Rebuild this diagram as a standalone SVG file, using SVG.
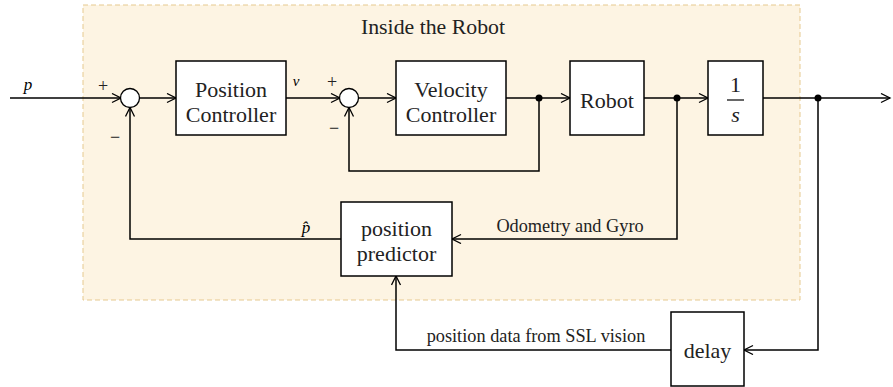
<svg xmlns="http://www.w3.org/2000/svg" width="893" height="387" viewBox="0 0 893 387">
<defs>
<marker id="arr" markerUnits="userSpaceOnUse" markerWidth="12" markerHeight="12" refX="10" refY="5" orient="auto">
<path d="M1,0.5 L10,5 L1,9.5" fill="none" stroke="#000" stroke-width="1.3"/>
</marker>
<style>
text{font-family:'Liberation Serif','Times New Roman','DejaVu Serif',serif}
.blk{fill:#fff;stroke:#000;stroke-width:1.5}
.ln{fill:none;stroke:#000;stroke-width:1.5}
.bt{font-size:22px;text-anchor:middle;fill:#222}
.lb{font-size:18.3px;text-anchor:middle;fill:#222}
.it{font-style:italic;font-size:17px;text-anchor:middle;fill:#000}
.sg{font-size:18px;text-anchor:middle;fill:#222}
.dot{fill:#000}
</style>
</defs>
<rect id="region" x="83" y="5" width="717" height="295" fill="#fdf4e3" stroke="#e6c98f" stroke-width="1" stroke-dasharray="5,3"/>
<text class="lb" x="433" y="34" style="font-size:21.8px">Inside the Robot</text>

<g id="connectors">
<path class="ln" d="M10,98 H121" marker-end="url(#arr)"/>
<path class="ln" d="M140,98 H176" marker-end="url(#arr)"/>
<path class="ln" d="M286,98 H340" marker-end="url(#arr)"/>
<path class="ln" d="M359,98 H396" marker-end="url(#arr)"/>
<path class="ln" d="M506,98 H570" marker-end="url(#arr)"/>
<path class="ln" d="M539,98 V171 H349 V107.5" marker-end="url(#arr)"/>
<path class="ln" d="M644,98 H708" marker-end="url(#arr)"/>
<path class="ln" d="M677,98 V239 H452" marker-end="url(#arr)"/>
<path class="ln" d="M763,98 H890" marker-end="url(#arr)"/>
<path class="ln" d="M818,98 V350 H744" marker-end="url(#arr)"/>
<path class="ln" d="M671,350 H396 V276" marker-end="url(#arr)"/>
<path class="ln" d="M341,239 H130 V107.5" marker-end="url(#arr)"/>
<circle class="dot" cx="539" cy="98" r="3.5"/>
<circle class="dot" cx="677" cy="98" r="3.5"/>
<circle class="dot" cx="818" cy="98" r="3.5"/>
<text class="it" x="28" y="90">p</text>
<text class="it" x="296" y="86" style="font-size:15px">v</text>
<text class="it" x="306" y="233">p̂</text>
<text class="lb" x="570" y="232">Odometry and Gyro</text>
<text class="lb" x="536" y="342">position data from SSL vision</text>
</g>

<g id="sum1">
<circle cx="130" cy="98" r="9.5" fill="#fff" stroke="#000" stroke-width="1.3"/>
<text class="sg" x="103" y="92">+</text>
<text class="sg" x="115" y="143">−</text>
</g>
<g id="sum2">
<circle cx="349" cy="98" r="9.5" fill="#fff" stroke="#000" stroke-width="1.3"/>
<text class="sg" x="332" y="88">+</text>
<text class="sg" x="334" y="134">−</text>
</g>
<g id="position-controller">
<rect class="blk" x="176" y="61" width="110" height="74"/>
<text class="bt" x="231" y="97">Position</text>
<text class="bt" x="231" y="122">Controller</text>
</g>
<g id="velocity-controller">
<rect class="blk" x="396" y="61" width="110" height="74"/>
<text class="bt" x="451" y="97">Velocity</text>
<text class="bt" x="451" y="122">Controller</text>
</g>
<g id="robot">
<rect class="blk" x="570" y="61" width="74" height="74"/>
<text class="bt" x="607" y="108">Robot</text>
</g>
<g id="integrator">
<rect class="blk" x="708" y="61" width="55" height="74"/>
<text class="bt" x="735.5" y="92">1</text>
<line x1="727" y1="100" x2="744" y2="100" stroke="#000" stroke-width="1.2"/>
<text class="bt" x="735.5" y="122" style="font-style:italic">s</text>
</g>
<g id="position-predictor">
<rect class="blk" x="341" y="202" width="111" height="74"/>
<text class="bt" x="396.5" y="236">position</text>
<text class="bt" x="396.5" y="261">predictor</text>
</g>
<g id="delay">
<rect class="blk" x="671" y="312" width="73" height="74"/>
<text class="bt" x="707.5" y="358">delay</text>
</g>
</svg>
